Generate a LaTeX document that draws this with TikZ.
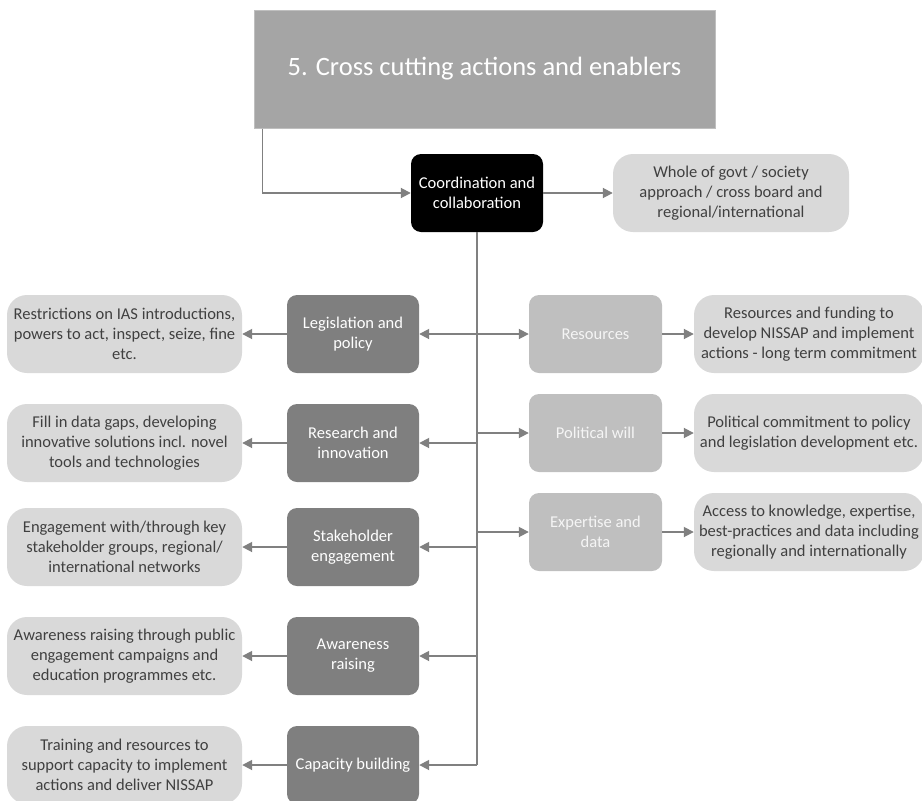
\documentclass[tikz,border=0pt]{standalone}
\usepackage{fontspec}
\setmainfont{Carlito}
\usetikzlibrary{arrows.meta}
\definecolor{titlegray}{HTML}{A5A5A5}
\definecolor{titleedge}{HTML}{BFBFBF}
\definecolor{darkbox}{HTML}{7F7F7F}
\definecolor{midbox}{HTML}{BFBFBF}
\definecolor{lightbox}{HTML}{D9D9D9}
\definecolor{inktext}{HTML}{404040}
\definecolor{linegray}{HTML}{808080}
\begin{document}
\begin{tikzpicture}[x=1pt,y=-1pt,
  base/.style={align=center,inner sep=0pt,font=\fontsize{16.5}{20}\selectfont},
  titlebox/.style={base,fill=titlegray,draw=titleedge,line width=1pt,
    minimum width=461pt,minimum height=118pt,text=white,font=\fontsize{26.5}{30}\selectfont},
  keybox/.style={base,fill=black,rounded corners=10pt,minimum width=132pt,minimum height=78pt,text=white},
  actbox/.style={base,fill=darkbox,rounded corners=10pt,minimum width=132pt,minimum height=78pt,text=white},
  enabox/.style={base,fill=midbox,rounded corners=10pt,minimum width=133pt,minimum height=78pt,text=white!96!black},
  notebox/.style={base,fill=lightbox,rounded corners=20pt,minimum height=78pt,text=inktext},
  link/.style={draw=linegray,line width=1.8pt},
  arr/.style={link,-{Triangle[length=10pt,width=10pt]}}]
\useasboundingbox (0,0) rectangle (922,801);

% header and central hub
\node[titlebox] (title) at (484.5,69) {5. Cross cutting actions and enablers};
\node[keybox] (coord) at (477,193) {Coordination and\\collaboration};
\node[notebox,minimum width=236pt] (whole) at (731,193) {Whole of govt / society\\approach / cross board and\\regional/international};

% actions on the left
\node[actbox] (leg) at (353,334) {Legislation and\\policy};
\node[actbox] (res) at (353,443) {Research and\\innovation};
\node[actbox] (stk) at (353,547) {Stakeholder\\engagement};
\node[actbox] (awr) at (353,656) {Awareness\\raising};
\node[actbox] (cap) at (353,765) {Capacity building};

\node[notebox,minimum width=235pt] (legn) at (124.5,334) {Restrictions on IAS introductions,\\powers to act, inspect, seize, fine\\etc.};
\node[notebox,minimum width=235pt] (resn) at (124.5,443) {Fill in data gaps, developing\\innovative solutions incl. novel\\tools and technologies};
\node[notebox,minimum width=235pt] (stkn) at (124.5,547) {Engagement with/through key\\stakeholder groups, regional/\\international networks};
\node[notebox,minimum width=235pt] (awrn) at (124.5,656) {Awareness raising through public\\engagement campaigns and\\education programmes etc.};
\node[notebox,minimum width=235pt] (capn) at (124.5,765) {Training and resources to\\support capacity to implement\\actions and deliver NISSAP};

% enablers on the right
\node[enabox] (fund) at (595.5,334) {Resources};
\node[enabox] (pol) at (595.5,433) {Political will};
\node[enabox] (exp) at (595.5,532) {Expertise and\\data};

\node[notebox,minimum width=230pt] (fundn) at (809,334) {Resources and funding to\\develop NISSAP and implement\\actions - long term commitment};
\node[notebox,minimum width=230pt] (poln) at (809,433) {Political commitment to policy\\and legislation development etc.};
\node[notebox,minimum width=230pt] (expn) at (809,532) {Access to knowledge, expertise,\\best-practices and data including\\regionally and internationally};

% connectors
\coordinate (drop) at ([xshift=9pt]title.south west);
\draw[arr] (drop) |- (coord.west);
\draw[arr] (coord.east) -- (whole.west);
\coordinate (trunkend) at (coord.south |- cap.east);
\draw[link] (coord.south) -- (trunkend);

\foreach \a in {leg,res,stk,awr,cap}{
  \draw[arr] (coord.south |- \a.east) -- (\a.east);
  \draw[arr] (\a.west) -- (\a n.east);
}
\foreach \a in {fund,pol,exp}{
  \draw[arr] (coord.south |- \a.west) -- (\a.west);
  \draw[arr] (\a.east) -- (\a n.west);
}
\end{tikzpicture}
\end{document}
